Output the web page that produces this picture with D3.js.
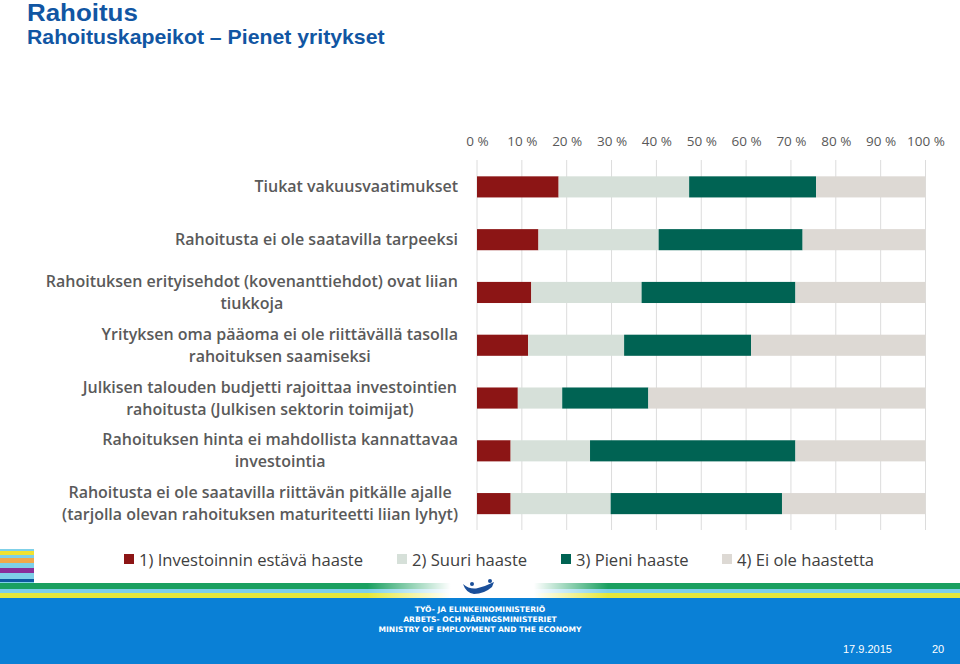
<!DOCTYPE html>
<html><head><meta charset="utf-8">
<script src="https://cdn.jsdelivr.net/npm/d3@7"></script>
<style>body{margin:0;background:#fff}svg{display:block}</style>
</head><body>
<script>
const categories = [
  ["Tiukat vakuusvaatimukset"],
  ["Rahoitusta ei ole saatavilla tarpeeksi"],
  ["Rahoituksen erityisehdot (kovenanttiehdot) ovat liian", "tiukkoja"],
  ["Yrityksen oma pääoma ei ole riittävällä tasolla", "rahoituksen saamiseksi"],
  ["Julkisen talouden budjetti rajoittaa investointien", "rahoitusta (Julkisen sektorin toimijat)"],
  ["Rahoituksen hinta ei mahdollista kannattavaa", "investointia"],
  ["Rahoitusta ei ole saatavilla riittävän pitkälle ajalle", "(tarjolla olevan rahoituksen maturiteetti liian lyhyt)"]
];
const seriesNames = ["1) Investoinnin estävä haaste", "2) Suuri haaste", "3) Pieni haaste", "4) Ei ole haastetta"];
const s1 = [18.2, 13.7, 12.1, 11.4, 9.1, 7.5, 7.5];
const s2 = [29.1, 26.8, 24.6, 21.4, 9.9, 17.7, 22.3];
const s3 = [28.3, 32.1, 34.3, 28.3, 19.2, 45.8, 38.2];
const s4 = [24.4, 27.4, 29.0, 38.9, 61.8, 29.0, 32.0];
const tickValues = [0,10,20,30,40,50,60,70,80,90,100];
const colors = ["#8c1515", "#d6e0d9", "#006353", "#ddd9d4"];

const W = 960, H = 664;
const svg = d3.select("body").append("svg").attr("width", W).attr("height", H);

// Title (slide image is slightly stretched horizontally)
svg.append("text").attr("transform", "translate(27,21) scale(1.08,1)").attr("font-family", "Liberation Sans, Arial").attr("font-weight", "bold")
  .attr("font-size", 24).attr("fill", "#1156a3").text("Rahoitus");
svg.append("text").attr("transform", "translate(27,44) scale(1.09,1)").attr("font-family", "Liberation Sans, Arial").attr("font-weight", "bold")
  .attr("font-size", 19.5).attr("fill", "#1156a3").text("Rahoituskapeikot – Pienet yritykset");

const rows = categories.map((c, i) => ({key: i, label: c, a: s1[i], b: s2[i], c: s3[i], d: s4[i]}));
const stack = d3.stack().keys(["a","b","c","d"]);
const layers = stack(rows);

const x = d3.scaleLinear().domain([0, 100]).range([477, 925.5]);
const y = d3.scaleBand().domain(rows.map(r => r.key)).range([160.5, 530]).paddingInner(0.6).paddingOuter(0.3);

// gridlines
svg.append("g").selectAll("line").data(tickValues).join("line")
  .attr("x1", d => x(d)).attr("x2", d => x(d)).attr("y1", 160).attr("y2", 530)
  .attr("stroke", "#dcdcdc").attr("stroke-width", 1);

// axis labels
const axis = d3.axisTop(x).tickValues(tickValues).tickFormat(d => d + " %").tickSize(0).tickPadding(0);
const ag = svg.append("g").attr("transform", "translate(0,146)").call(axis);
ag.select(".domain").remove();
ag.selectAll("text").attr("font-family", "Open Sans, Lato, sans-serif").attr("font-size", 13.5).attr("fill", "#595959");

// bars
svg.append("g").selectAll("g").data(layers).join("g").attr("fill", (d, i) => colors[i])
  .selectAll("rect").data(d => d).join("rect")
  .attr("x", d => x(d[0])).attr("width", d => x(d[1]) - x(d[0]))
  .attr("y", d => y(d.data.key)).attr("height", y.bandwidth());

// category labels
const lg = svg.append("g").attr("font-family", "Open Sans, Lato, sans-serif").attr("font-size", 16)
  .attr("font-weight", 600).attr("fill", "#5a5a5a");
rows.forEach(r => {
  const cy = y(r.key) + y.bandwidth() / 2;
  const n = r.label.length;
  const lh = 22;
  const t = lg.append("text").attr("text-anchor", "middle");
  r.label.forEach((line, j) => {
    t.append("tspan").attr("x", 0).attr("y", cy + (j - (n - 1) / 2) * lh + 5.5).text(line);
  });
  const w = t.node().getBBox().width;
  t.selectAll("tspan").attr("x", 458 - w / 2);
});

// legend
const legX = [124, 397, 561, 722];
const leg = svg.append("g");
seriesNames.forEach((s, i) => {
  leg.append("rect").attr("x", legX[i]).attr("y", 554).attr("width", 10).attr("height", 10).attr("fill", colors[i]);
  leg.append("text").attr("x", legX[i] + 15).attr("y", 565.5).attr("font-family", "Open Sans, Lato, sans-serif")
    .attr("font-size", 16.6).attr("fill", "#404040").text(s);
});

// footer
const defs = svg.append("defs");
const gr = defs.append("linearGradient").attr("id", "fade");
[[0, 0], [0.36, 0], [0.45, 1], [0.54, 1], [0.62, 0], [1, 0]].forEach(([o, a]) =>
  gr.append("stop").attr("offset", o).attr("stop-color", "#fff").attr("stop-opacity", a));
const ft = svg.append("g");
[[549, 2, "#7fd0e8"], [551, 4, "#f2e230"], [555, 3, "#7fd0e8"], [558, 5, "#f2a84a"], [563, 5, "#7fd0e8"],
 [568, 5, "#8a2f9a"], [573, 6, "#7fd0e8"], [579, 3, "#0d5aa0"], [582, 1, "#7fd0e8"]].forEach(([yy, h, c]) =>
  ft.append("rect").attr("x", 0).attr("y", yy).attr("width", 34).attr("height", h).attr("fill", c));
[[583, 6, "#1aa060"], [589, 4, "#7fd0e8"], [593, 5, "#e6e83a"]].forEach(([yy, h, c]) =>
  ft.append("rect").attr("x", 0).attr("y", yy).attr("width", W).attr("height", h).attr("fill", c));
ft.append("rect").attr("x", 34).attr("y", 583).attr("width", W - 34).attr("height", 15).attr("fill", "url(#fade)");
ft.append("rect").attr("x", 0).attr("y", 598).attr("width", W).attr("height", H - 598).attr("fill", "#0a80d6");
// logo swoosh
ft.append("path").attr("d", "M463,584 Q470,590 478,588 Q486,586 494,582 L492,587 Q484,594 474,594 Q466,593 463,584 Z").attr("fill", "#1a4f9a");
ft.append("circle").attr("cx", 472).attr("cy", 584).attr("r", 2).attr("fill", "#1a4f9a");
ft.append("circle").attr("cx", 490).attr("cy", 581).attr("r", 2).attr("fill", "#1a4f9a");
const ftxt = ["TYÖ- JA ELINKEINOMINISTERIÖ", "ARBETS- OCH NÄRINGSMINISTERIET", "MINISTRY OF EMPLOYMENT AND THE ECONOMY"];
ftxt.forEach((t, i) => ft.append("text").attr("x", 480).attr("y", 612 + i * 10).attr("text-anchor", "middle")
  .attr("font-family", "DejaVu Sans, sans-serif").attr("font-weight", "bold").attr("font-size", 7.6).attr("fill", "#fff").text(t));
ft.append("text").attr("x", 843).attr("y", 653).attr("font-family", "Liberation Sans, Arial").attr("font-size", 11).attr("fill", "#fff").text("17.9.2015");
ft.append("text").attr("x", 932).attr("y", 653).attr("font-family", "Liberation Sans, Arial").attr("font-size", 11).attr("fill", "#fff").text("20");
</script>
</body></html>
